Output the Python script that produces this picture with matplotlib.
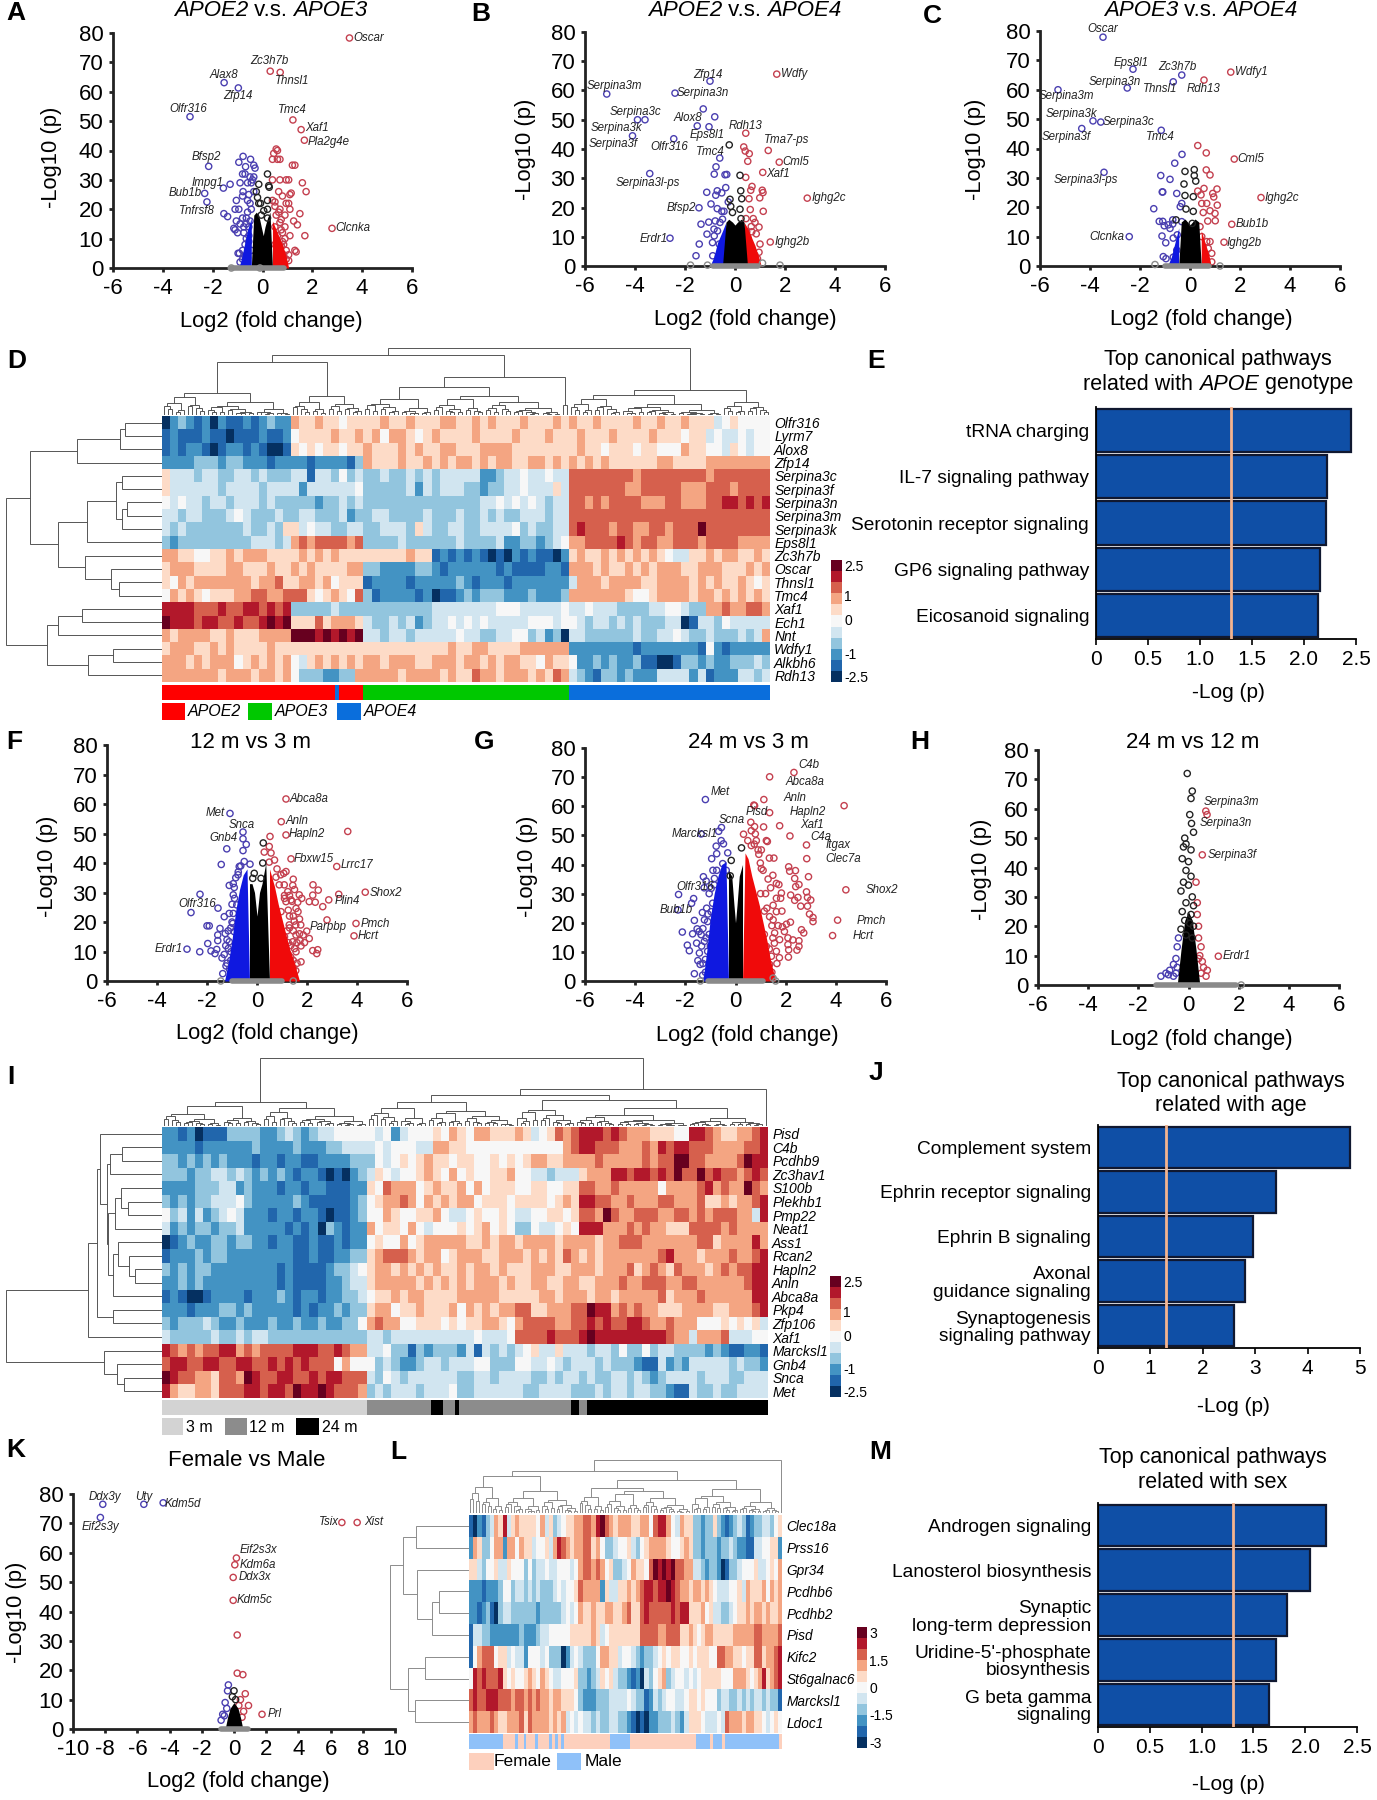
#!/usr/bin/env python3
"""Multi-panel transcriptomics figure: volcano plots, heatmaps and pathway bars."""
import numpy as np
import matplotlib
matplotlib.use('Agg')
import matplotlib.pyplot as plt
from matplotlib.colors import ListedColormap
from matplotlib.patches import Rectangle

W, H = 1377, 1800
plt.rcParams['font.family'] = ['Liberation Sans', 'DejaVu Sans']
plt.rcParams['axes.unicode_minus'] = False

LEVELS = ['#053061', '#2166ac', '#4393c3', '#92c5de', '#d1e5f0', '#f7f7f7',
          '#fddbc7', '#f4a582', '#d6604d', '#b2182b', '#67001f']
BLUE, RED, DARK, GRAY = '#4a3fb0', '#c4404f', '#222222', '#8a8a8a'

# ---- volcano data: (log2 fc, -log10 p)
A_BLUE = [(-1.54, 63.1), (-.97, 61.3), (-2.91, 51.5), (-2.16, 34.6), (-1.57, 27.2), (-2.32, 25.4), (-2.23, 22.5),
          (-.78, 38), (-.95, 36), (-.48, 37), (-.68, 34.5), (-.35, 35), (-.3, 34), (-.8, 32), (-.7, 32), (-.5, 31),
          (-.35, 31), (-.4, 30), (-.9, 29), (-.6, 29), (-.45, 29), (-1.3, 28.5), (-.78, 26), (-.8, 24.5), (-.55, 25),
          (-.35, 26), (-1.05, 23), (-.6, 23), (-.5, 22), (-1.1, 20), (-.95, 20), (-1.55, 18.5), (-1.4, 17.5),
          (-.8, 17), (-.65, 17), (-1.05, 16), (-.9, 15), (-.65, 15), (-.55, 14), (-1.15, 13.5), (-1.1, 13), (-1.0, 12),
          (-.75, 12), (-.55, 11), (-.65, 10), (-.55, 9), (-.98, 5), (-.93, 5), (-.7, 4), (-.6, 3.5), (-.45, 6),
          (-.8, 3), (-.9, 2), (-.5, 16), (-.75, 14), (-.7, 8), (-.8, 6), (-.6, 19), (-.45, 20)]
A_RED = [(3.49, 78.3), (.31, 67), (.71, 66.6), (1.22, 50.4), (1.55, 47.1), (1.68, 43.5), (2.79, 13.5),
         (.55, 40.5), (.6, 40), (.45, 39), (.4, 37), (.6, 37), (.7, 37), (1.2, 35), (1.3, 35), (.4, 30), (.7, 30),
         (.95, 30), (1.05, 30), (1.6, 29), (1.75, 26), (.65, 26), (.8, 24.5), (1.1, 25), (1.15, 25.5), (.4, 23),
         (.5, 22.5), (.95, 22), (1.05, 22), (.5, 21), (.7, 20), (1.1, 20), (.65, 19), (.9, 18), (1.5, 18.5),
         (.75, 16.5), (1.25, 16), (.7, 15.5), (1.4, 14.7), (.5, 14), (.75, 13), (.8, 12), (1.7, 11), (1.1, 11),
         (.9, 10), (.8, 9), (.5, 8), (.75, 7.5), (.85, 8), (1.3, 6), (1.35, 5.5), (.7, 6), (1.05, 4.5), (.85, 4.5),
         (.95, 3), (1.05, 2.5), (.55, 18), (.9, 14), (.6, 11), (.95, 6)]
A_BLACK = [(.2, 32), (-.15, 28.5), (.25, 28), (.27, 27.5), (-.25, 26), (-.2, 24), (.2, 23), (-.15, 22), (-.08, 22),
           (.2, 20), (.05, 19.5), (-.05, 18), (.2, 17)]
A_ENV_X = [-.95, -.85, -.75, -.6, -.45, -.35, -.25, -.15, -.05, .03, .1, .2, .3, .4, .5, .65, .8, .95, 1.05]
A_ENV_Y = [0, 3, 7, 13, 17, 18, 19, 18, 14, 11, 14, 17, 19, 16, 14, 11, 8, 4, 0]
A_LABELS = [('Oscar', 4.25, 78.2), ('Zc3h7b', .27, 70.6), ('Thnsl1', 1.18, 63.8), ('Alax8', -1.57, 65.6),
            ('Zfp14', -1.0, 58.7), ('Olfr316', -2.99, 54.1), ('Tmc4', 1.18, 53.7), ('Xaf1', 2.17, 47.6),
            ('Pla2g4e', 2.65, 43), ('Bfsp2', -2.24, 37.8), ('Impg1', -2.21, 28.9), ('Bub1b', -3.11, 25.4),
            ('Tnfrsf8', -2.64, 19.5), ('Clcnka', 3.63, 13.5)]

B_BLUE = [(-1, 63.2), (-5.13, 58.8), (-2.4, 59.1), (-3.6, 50), (-3.9, 50), (-1.27, 53.7), (-.81, 51), (-1.51, 47.9),
          (-1.04, 47.6), (-4.1, 44.5), (-2.45, 43.5), (-.61, 36.9), (-3.41, 31.6), (-1.44, 19.9), (-2.6, 9.5),
          (-.76, 33.9), (-.83, 31.4), (-.33, 31.3), (-.4, 31.2), (-.37, 26.8), (-1.13, 25.2), (-.71, 25.7), (-.53, 25),
          (-.77, 24.2), (-.96, 21.2), (-.27, 21.9), (-.71, 19.6), (-.53, 18.7), (-.44, 18.7), (-1.05, 15), (-1.36, 14.3),
          (-.79, 15.4), (-.6, 14.9), (-.84, 12.6), (-1.12, 10.9), (-.83, 10.3), (-1.43, 7.5), (-.63, 7.5), (-1.56, 3.5),
          (-.89, 3.5), (-.67, 3.2), (-.5, 16), (-.7, 12), (-.9, 8)]
B_RED = [(1.67, 65.6), (.43, 45.4), (1.33, 39.5), (1.77, 35.5), (1.11, 32), (2.89, 23.2), (1.41, 8.2), (.35, 40.7),
         (.41, 39.3), (.57, 38.4), (.51, 35.8), (.43, 30.3), (.68, 27.2), (.63, 25.9), (1.09, 25.9), (1.12, 25.1),
         (.56, 23), (.99, 23.3), (.61, 19.3), (1.13, 18.7), (.44, 16.2), (.73, 16.2), (.8, 14.9), (.96, 13.3),
         (.47, 11.7), (.67, 11.7), (1, 7.5), (.96, 4.7), (.8, 3.7), (.6, 6), (.53, 9.4), (.65, 13.5), (.85, 11), (.9, 2.5)]
B_BLACK = [(-.23, 41.4), (.2, 31), (.23, 25.7), (-.2, 22.8), (.27, 23), (-.17, 20.4), (.2, 19.4), (-.1, 18.3), (.24, 16.2)]
B_ENV_X = [-1, -.85, -.7, -.5, -.36, -.25, -.1, 0, .1, .25, .36, .5, .65, .8, .95, 1.05]
B_ENV_Y = [0, 3, 8, 12, 15, 16, 15, 14, 15, 16, 15, 13, 10, 7, 3, 0]
B_LABELS = [('Wdfy', 2.36, 65.6), ('Zfp14', -1.07, 65.4), ('Serpina3m', -4.84, 61.6), ('Serpina3n', -1.27, 59),
            ('Serpina3c', -3.97, 52.7), ('Alox8', -1.87, 50.5), ('Serpina3k', -4.73, 47.3), ('Serpina3f', -4.89, 41.7),
            ('Eps8l1', -1.1, 44.8), ('Olfr316', -2.63, 40.6), ('Rdh13', .41, 47.9), ('Tma7-ps', 2.07, 43),
            ('Tmc4', -1, 38.9), ('Cml5', 2.44, 35.4), ('Xaf1', 1.73, 31.4), ('Serpina3l-ps', -3.47, 28.5),
            ('Ighg2c', 3.76, 23.2), ('Bfsp2', -2.13, 20), ('Erdr1', -3.24, 9.4), ('Ighg2b', 2.27, 8.2)]

C_BLUE = [(-3.48, 77.9), (-2.28, 67), (-.33, 65), (-.67, 62.7), (-2.51, 60.6), (-5.28, 60), (-3.88, 49.4), (-3.57, 49),
          (-4.33, 46.8), (-1.15, 46.2), (-3.44, 31.9), (-2.43, 10), (-.32, 38), (-.61, 35), (-1.17, 30.8), (-.8, 29.5),
          (-1.09, 25.2), (-1.11, 25.2), (-.53, 24.7), (-.33, 21.3), (-.39, 20.2), (-1.45, 19.5), (-1.23, 15.2),
          (-1.09, 15.2), (-1.03, 13.7), (-.69, 15.7), (-.69, 14.3), (-.8, 12.8), (-.33, 15.1), (-1.12, 10.2),
          (-.67, 9.5), (-.97, 7.9), (-.51, 10.6), (-1.07, 3.2), (-.96, 2.5), (-.67, 3), (-.53, 5.4), (-.87, 14)]
C_RED = [(1.63, 66), (.56, 63.3), (1.77, 36.4), (2.84, 23.3), (1.67, 14.2), (1.36, 8.1), (.31, 41), (.65, 38.5),
         (.65, 32.7), (.8, 31), (.56, 26.4), (1.08, 26.2), (.91, 24.7), (.95, 23.5), (.31, 25.5), (.44, 24.2),
         (.67, 21.3), (1.09, 20.7), (.47, 21.3), (.8, 18.8), (1, 17.9), (.53, 18.2), (.71, 15.3), (1.01, 15.4),
         (.4, 13.4), (.8, 8.3), (.67, 8.3), (.87, 4.3), (.87, 1.4), (.73, 6), (.47, 10)]
C_BLACK = [(.17, 32.8), (-.2, 32.2), (.17, 30.8), (.23, 28.9), (-.24, 27.9), (-.2, 24), (.13, 23.6), (-.16, 19.4),
           (.13, 18.6), (-.56, 15.7), (.09, 14.5)]
C_ENV_X = [-.9, -.75, -.6, -.45, -.35, -.2, 0, .2, .35, .45, .6, .75, .85]
C_ENV_Y = [0, 3, 8, 13, 15, 16, 14, 16, 15, 12, 8, 4, 0]
C_LABELS = [('Oscar', -3.49, 80.7), ('Eps8l1', -2.36, 69.2), ('Zc3h7b', -.51, 67.9), ('Wdfy1', 2.44, 66.1),
            ('Thnsl1', -1.2, 60.2), ('Rdh13', .56, 60.3), ('Serpina3n', -3.01, 62.8), ('Serpina3m', -4.93, 57.8),
            ('Serpina3k', -4.73, 51.6), ('Serpina3c', -2.47, 48.9), ('Serpina3f', -4.96, 44), ('Tmc4', -1.17, 43.9),
            ('Cml5', 2.44, 36.3), ('Serpina3l-ps', -4.16, 29.2), ('Ighg2c', 3.69, 23.2), ('Bub1b', 2.47, 14.3),
            ('Ighg2b', 2.16, 7.9), ('Clcnka', -3.31, 9.8)]

F_BLUE = [(-1.08, 56.8), (-.56, 50.5), (-1.21, 44.8), (-1.56, 24.7), (-2.8, 10.8), (-2.28, 29.4), (-2.64, 23.2),
          (-1.43, 39.5), (-.56, 48.2), (-.43, 46.3), (-.56, 44.2), (-.51, 40.5), (-.71, 38.8), (-.28, 39.6), (-.76, 36),
          (-1.11, 32.4), (-.91, 31.7), (-.95, 29.2), (-1.11, 22.9), (-1.31, 21.8), (-.95, 22.9), (-2, 18.7),
          (-1.91, 18.7), (-1.48, 17.8), (-.97, 19.5), (-1.57, 15.6), (-1.27, 16.1), (-1.97, 12.7), (-1.57, 13.7),
          (-2.29, 9.9), (-1.84, 10.2), (-1.68, 9.3), (-1.61, 10.7), (-1.31, 9), (-1.4, 7.8), (-1.24, 5.1), (-1.37, 2.5),
          (-1.11, 13.3), (-1.04, 9.9), (-.91, 16.7), (-.81, 25.8), (-1.0, 20), (-1.05, 18), (-1.2, 14), (-1.15, 11),
          (-1.05, 7), (-1.2, 6), (-1.1, 4), (-.95, 33), (-.85, 35), (-.75, 37), (-.65, 39), (-1.25, 12), (-1.15, 17),
          (-1.0, 26), (-.9, 28)]
F_RED = [(1.16, 61.7), (.97, 54), (1.16, 49.5), (3.63, 50.7), (1.36, 41.4), (3.19, 38.8), (4.33, 30.1), (2.87, 27.5),
         (3.27, 29.4), (2.8, 20.7), (3.96, 19.5), (3.88, 15.3), (.52, 49), (.49, 45.6), (.29, 43.7), (.56, 43.4),
         (.49, 40.3), (1.16, 37.1), (1.07, 36.5), (.76, 35.2), (1.45, 34.5), (1.43, 32.4), (2.24, 32.6), (2.45, 30.8),
         (2.23, 29.1), (2.09, 26.9), (2.33, 26.7), (2.63, 25.2), (1.69, 29.2), (1.79, 28), (1.63, 26.7), (1.36, 27.5),
         (1.56, 24.6), (1.64, 23.5), (.89, 32.6), (1.09, 32.6), (1.23, 30.3), (1.16, 26.9), (1.49, 20.3), (1.29, 19),
         (1.99, 16.9), (1.85, 15.6), (2.09, 14.4), (1.56, 15.6), (1.72, 13.7), (1.76, 11.9), (2.23, 10.3), (2.43, 10.6),
         (2.39, 9.3), (1.56, 9.9), (1.76, 6.5), (1.36, 5.3), (1.23, 3.6), (1.03, 14.4), (1.16, 11), (.83, 17.8),
         (1.43, 13.3), (.96, 23.5), (1.3, 22), (1.2, 17), (1.35, 8), (1.05, 6), (1.45, 4.5), (1.1, 28), (1.3, 29), (1.5, 31),
         (1.1, 29), (1.4, 27), (1.25, 24), (1.45, 22), (1.3, 18), (1.55, 19), (1.7, 21), (1.45, 17), (1.6, 13), (1.35, 12),
         (1.5, 11), (1.7, 16), (1.9, 13), (1.25, 9), (1.45, 7), (1.6, 6), (1.3, 3), (1.15, 1.5), (1.4, 2.5), (1.55, 3.5),
         (1.75, 19), (1.1, 15), (1.25, 13), (.95, 36), (.8, 38), (.7, 41)]
F_BLACK = [(.25, 46.8), (.23, 40), (-.11, 36.5), (-.17, 34.8), (.16, 34.8)]
F_ENV_X = [-1.3, -1.15, -1, -.85, -.7, -.55, -.4, -.3, -.2, -.1, 0, .1, .2, .35, .5, .7, .85, 1, 1.15, 1.3, 1.5, 1.7]
F_ENV_Y = [0, 6, 14, 24, 31, 36, 38, 33, 33, 30, 22, 30, 33, 40, 38, 32, 26, 21, 16, 11, 6, 0]
F_LABELS = [('Abca8a', 2.09, 61.6), ('Anln', 1.6, 54.1), ('Hapln2', 2.01, 49.7), ('Met', -1.67, 56.9), ('Snca', -.6, 52.8),
            ('Gnb4', -1.33, 48.4), ('Fbxw15', 2.25, 41.3), ('Lrrc17', 4, 39.2), ('Shox2', 5.16, 30), ('Plin4', 3.63, 27),
            ('Olfr316', -2.39, 26.1), ('Parpbp', 2.85, 18.4), ('Pmch', 4.72, 19.2), ('Hcrt', 4.45, 15.1), ('Erdr1', -3.53, 10.7)]

G_BLUE = [(-1.2, 62.3), (-.56, 52.7), (-.67, 51.4), (-1.37, 50.5), (-2.27, 29.7), (-1.67, 28.3), (-1.75, 26.7),
          (-2.29, 24.4), (-1.32, 23.5), (-1.64, 20.8), (-1.24, 21), (-2.12, 16.8), (-1.53, 17.9), (-1.71, 16.2),
          (-1.92, 12.3), (-1.84, 10.4), (-1.37, 15.9), (-1.17, 14.8), (-1.44, 9.6), (-1.41, 5.7), (-1.64, 2.5),
          (-1.31, 2), (-1.11, 1.7), (-1.28, 35.8), (-1.17, 34.3), (-.97, 31.8), (-.77, 46.3), (-.57, 48.2), (-.48, 47.1),
          (-.75, 43.7), (-.31, 44), (-.51, 40.3), (-.75, 38), (-.37, 38), (-.84, 35.2), (-.91, 26.7), (-.97, 23.8),
          (-1.11, 20.4), (-1.24, 13.6), (-1.11, 10.2), (-1.2, 7.4), (-.97, 4.5), (-1.25, 32), (-1.05, 30), (-1.15, 25),
          (-1.3, 18), (-1.45, 17), (-1.55, 13), (-1.35, 12), (-1.5, 7), (-1.3, 6), (-1.2, 3), (-1.05, 16), (-1.1, 23),
          (-.9, 38), (-.95, 42), (-.85, 33), (-1, 12)]
G_RED = [(2.33, 71.6), (1.36, 70.1), (1.13, 62.3), (4.33, 60.2), (1.36, 57.8), (.73, 60.4), (.76, 60.2), (1.76, 53.3),
         (2.17, 49.8), (2.83, 46.7), (2.84, 42), (4.4, 31.3), (4.07, 20.9), (3.87, 15.6), (.61, 54.5), (.76, 53),
         (1.12, 52.9), (.63, 51.6), (.79, 50.5), (.32, 50.4), (.49, 48.2), (.83, 48.2), (1.23, 48.2), (1.27, 47.9),
         (.63, 46.5), (1.03, 45), (.93, 43.5), (1.35, 42.2), (1.53, 42.2), (.99, 40.5), (2.12, 39.2), (2.16, 37.7),
         (2.39, 37.9), (1.03, 38.6), (1.49, 36.3), (2.36, 35.2), (2.91, 35.8), (2.53, 33.1), (2.4, 32.4), (1.63, 33.5),
         (1.73, 33.1), (2.83, 30.6), (1.83, 30.2), (2.2, 29.5), (2.49, 28.7), (2.87, 28.7), (3, 27.8), (2.36, 27.7),
         (1.8, 28.4), (1.63, 28.4), (2.6, 25.7), (2.87, 25.7), (2.95, 23), (3.09, 21.8), (3.09, 20.4), (2.19, 20.2),
         (2.03, 19.5), (1.87, 18.6), (1.63, 23.8), (1.36, 22.1), (2.63, 17.6), (2.72, 16.5), (1.56, 16.5), (2.09, 14.8),
         (2.29, 14.1), (2.53, 13.8), (1.76, 14.2), (1.49, 14.8), (2.53, 11.9), (2.09, 12.5), (2.45, 10.6), (2.12, 10.7),
         (2.11, 8.2), (1.63, 10.2), (1.36, 5.7), (1.09, 10.2), (1.23, 11.9), (1.43, 8.5), (1.03, 4.5), (1.23, 2.3),
         (1.2, 30), (1.4, 32), (1.5, 26), (1.25, 25), (1.45, 19), (1.7, 19), (1.55, 13), (1.35, 11), (1.75, 8), (1.25, 7),
         (1.45, 3), (1.15, 16), (1.3, 35), (1.1, 38), (.9, 45), (.75, 47), (1, 30), (1.85, 24), (1.95, 17), (1.15, 24),
         (1.5, 21), (1.65, 6)]
G_BLACK = [(.24, 45.7), (-.17, 41.4), (-.21, 36.1)]
G_ENV_X = [-1.3, -1.15, -1, -.85, -.7, -.55, -.38, -.28, -.15, -.06, 0, .06, .15, .28, .38, .5, .65, .8, .95, 1.1, 1.25, 1.4, 1.6]
G_ENV_Y = [0, 10, 22, 30, 36, 40, 41, 38, 36, 26, 20, 26, 36, 40, 44, 42, 36, 31, 26, 20, 14, 7, 0]
G_LABELS = [('C4b', 2.93, 74.2), ('Abca8a', 2.79, 68.2), ('Anln', 2.36, 62.8), ('Hapln2', 2.88, 57.9), ('Met', -.59, 64.9),
            ('Pisd', .83, 57.9), ('Scna', -.17, 55.4), ('Xaf1', 3.04, 53.6), ('C4a', 3.39, 49.4), ('Itgax', 4.09, 46.8),
            ('Clec7a', 4.29, 41.9), ('Marcksl1', -1.64, 50.6), ('Olfr316', -1.61, 32.2), ('Bub1b', -2.36, 24.5),
            ('Shox2', 5.84, 31.3), ('Pmch', 5.43, 20.7), ('Hcrt', 5.09, 15.4)]

H_BLUE = [(-.45, 13), (-.5, 9), (-.6, 7), (-.75, 5), (-.9, 4), (-1.1, 3), (-.5, 4), (-.4, 16), (-.6, 3), (-.8, 3.5), (-.45, 6)]
H_RED = [(.69, 59.2), (.74, 58), (.55, 44.3), (1.19, 9.8), (.35, 24), (.4, 20), (.4, 16), (.5, 13), (.45, 10), (.55, 8),
         (.6, 6), (.75, 5), (.4, 9), (.5, 4), (.7, 3), (.35, 28), (.3, 35)]
H_BLACK = [(-.05, 72), (.15, 66), (.1, 63.5), (.05, 58), (.12, 55), (.2, 52), (-.15, 50), (-.1, 48), (-.2, 47), (.1, 46),
           (-.25, 43), (0, 42), (-.1, 39), (.1, 37), (-.2, 35), (0, 34), (-.3, 32), (.15, 30), (-.1, 28), (.2, 27),
           (-.25, 25), (.1, 24), (-.15, 22), (.05, 21), (.2, 20), (-.3, 19), (-.1, 17), (.15, 16)]
H_ENV_X = [-.45, -.3, -.15, 0, .15, .3, .45]
H_ENV_Y = [0, 12, 22, 25, 22, 12, 0]
H_LABELS = [('Serpina3m', 1.7, 62.4), ('Serpina3n', 1.47, 55.3), ('Serpina3f', 1.74, 44.3), ('Erdr1', 1.92, 9.8)]

K_BLUE = [(-8.15, 76.5), (-5.6, 76.5), (-4.4, 77), (-8.3, 72), (-.35, 15), (-.4, 13), (-.55, 9), (-.7, 5), (-.8, 3), (-.45, 7), (-.6, 4.5)]
K_RED = [(6.7, 70.3), (7.65, 70.3), (.15, 58.2), (.05, 55.9), (-.05, 51.6), (-.05, 43.8), (.2, 32), (.2, 19), (.55, 18.5), (.7, 12),
         (.4, 10), (.3, 8), (.6, 6), (.5, 4), (.9, 8), (1.74, 5)]
K_BLACK = [(0, 13), (-.1, 11), (.1, 10)]
K_ENV_X = [-.55, -.4, -.25, 0, .25, .4, .55]
K_ENV_Y = [0, 4, 7, 9, 7, 4, 0]
K_LABELS = [('Ddx3y', -8, 78.9), ('Uty', -5.6, 79), ('Kdm5d', -3.2, 76.6), ('Eif2s3y', -8.3, 68.8), ('Tsix', 5.9, 70.3),
            ('Xist', 8.7, 70.3), ('Eif2s3x', 1.5, 61), ('Kdm6a', 1.5, 55.9), ('Ddx3x', 1.3, 51.6), ('Kdm5c', 1.3, 43.8), ('Prl', 2.53, 5)]

# ---- heatmaps: one char per cell, 0..9 and A index the eleven colour levels
D_GENES = ['Olfr316', 'Lyrm7', 'Alox8', 'Zfp14', 'Serpina3c', 'Serpina3f', 'Serpina3n', 'Serpina3m', 'Serpina3k', 'Eps8l1',
           'Zc3h7b', 'Oscar', 'Thnsl1', 'Tmc4', 'Xaf1', 'Ech1', 'Nnt', 'Wdfy1', 'Alkbh6', 'Rdh13']
D_GROUPS = [32, 18, 17, 34, 50]
D_ROWS = [
    '0232120211212322 766766566 66766766 67766767666766676 7667666676676676664565555',
    '1211121101112112 566667667 67577656 76666766667666766 6766676666766656645445455',
    '1212210122121001 656566566 76667676 67766677776666666 6766566656655576655465455',
    '2222333233222122 221222213 76667667 67677676776677676 7676766666677666677777777',
    '6444344334434333 441443534 33433434 34444422344544544 8888888878888888878888888',
    '6444444344443444 424444445 33333424 34443323344544464 8888888778888877788878888',
    '5454434434443433 333233434 33333333 33333344545454344 8878788887778877788998989',
    '4434433345433343 344333423 34433334 33343343433444344 8888888888888888888888888',
    '4343333333433436 645443344 33444364 33443344445343344 8988878877887888A88888888',
    '3233333333344434 787888878 33334333 33343333422332345 7788889878877888788887777',
    '7766556676777666 676767666 66666766 12121210102121102 6766767676765446676776676',
    '6777666677666766 767666677 33222233 21222222121111221 7776766767677766777666767',
    '6576777777767786 677675666 12222122 22232122212222222 4777677776677776767667656',
    '5767656667788778 886567658 31222212 01123233322232223 7777777655677776776767676',
    '9999888988998989 333334333 33333333 44444444555444445 4454443333445543377877887',
    'A999899889889A9A 666867776 43343423 44545454444455545 5434434343334401443544444',
    '7677776676667777 AAA9A9A9A 44344344 44454433445534230 4433333343344543343334347',
    '6777667676666766 666666666 66666666 66766776666777777 2222222212222222152122222',
    '7776767775676767 546767676 77677766 77767767677665766 5223232231100133232233343',
    '7777777677767767 533322337 77776777 76766877677767687 4321332322244442412224434',
]
D_ANNOT_CATS = [0, 2, 0, 1, 2]
D_ANNOT_COUNTS = [43, 1, 6, 51, 50]
D_ANNOT_COLORS = ['#ff0000', '#00c800', '#0a6edc']
D_ANNOT_NAMES = ['APOE2', 'APOE3', 'APOE4']

I_GENES = ['Pisd', 'C4b', 'Pcdhb9', 'Zc3hav1', 'S100b', 'Plekhb1', 'Pmp22', 'Neat1', 'Ass1', 'Rcan2', 'Hapln2', 'Anln', 'Abca8a',
           'Pkp4', 'Zfp106', 'Xaf1', 'Marcksl1', 'Gnb4', 'Snca', 'Met']
I_GROUPS = [51, 37, 16, 47]
I_ROWS = [
    '2212011133332234323445555 545245556576577666 76456878 999898777666559987667789',
    '2222122222232222322233444 454555447766555555 55555578 998887778798998887777889',
    '3323232322212212211222233 354565676656655656 56776677 778777778788AA8877778A99',
    '3332334434323232122101023 465455676575655667 55443444 677799899898A88A89887898',
    '2222333442322212212211122 658777567667575666 55665566 887787777757777897877A87',
    '3232334445322222321111123 567787576767756665 66665676 998877877788777866767789',
    '5342423454222122122101123 557655667544565565 44556656 887A87788877887878887749',
    '4232332334222221212032122 756657545556567565 33544565 999777878776668888787777',
    '0123223323322122112112122 565575677777667677 67777677 776778887777777886777797',
    '1222323322222222112112233 678887677567776677 76767687 676777777789777677787789',
    '3232332222222212111123345 677676767667677676 66777667 776777867876877767878899',
    '2232322222222212111122344 677777676767677767 66776677 667778778887788777777899',
    '1210012222122232122122334 566767766667777766 66677677 767767777786777877777799',
    '2221222332322222121223233 677566766675767677 88667778 8A9978787766677776677789',
    '3233343223222322322322335 787755666565667765 78888778 898988998778777555656564',
    '4333334334344333333333333 443444444444454445 88889888 9A9999999998774777844455',
    '9878788997878888999889877 445331323332414343 45644644 434435335344333323211221',
    '8998899889988989898885755 534322344344455333 55445434 443433321142324444434332',
    'A988776887A98899889899888 435434444443344344 44334344 343344343234444344433444',
    '9766776888998998A99A98887 343444344453344444 43344443 334344344332114334334444',
]
I_ANNOT_CATS = [0, 1, 2, 1, 2, 1, 2, 1, 2]
I_ANNOT_COUNTS = [51, 16, 3, 3, 1, 28, 2, 2, 45]
I_ANNOT_COLORS = ['#d3d3d3', '#8c8c8c', '#000000']
I_ANNOT_NAMES = ['3 m', '12 m', '24 m']

L_GENES = ['Clec18a', 'Prss16', 'Gpr34', 'Pcdhb6', 'Pcdhb2', 'Pisd', 'Kifc2', 'St6galnac6', 'Marcksl1', 'Ldoc1']
L_GROUPS = [38, 40, 31]
L_ROWS = [
    '10213476946766665746345667 78879A87677766775899754766 3323363212343123344356',
    '27633577277576645564798767 78867533455643567777655676 3323332334322114455662',
    '66435564465553534454455545 78878756334576658A9A9A8877 4432332013345556445657',
    '22212223553443434333454556 87777264466767899899A98776 7767654445564766675767',
    '22123103443333332333334545 76676677667866898888898996 6675644334566767767667',
    '14433222222232223445555566 66676456666666888877888667 6567766666777778877778',
    '15788856645442555453330245 43335776645543233456566556 5666558877665668867789',
    '59898889656556765765445556 33234656433212043567345545 4566666555777656796789',
    '89889998887887878776776665 32223334444543312434554456 6565553443343434434331',
    '78777876677786877776767454 54434334433210102233343246 6654445487776776654565',
]
L_ANNOT_CATS = [1, 0, 1, 0, 1, 0, 1, 0, 1, 0, 1, 0, 1, 0, 1, 0, 1, 0, 1, 0, 1, 0]
L_ANNOT_COUNTS = [12, 4, 1, 2, 1, 3, 1, 4, 1, 1, 1, 1, 1, 16, 7, 23, 5, 1, 3, 1, 19, 1]
L_ANNOT_COLORS = ['#fdd0bd', '#8fc1f9']
L_ANNOT_NAMES = ['Female', 'Male']

# trees: (height, left, right); int = row leaf; [n, h] = cluster of n columns topped at h
D_ROW_TREE = (285, (240, (155, (77, (67, 0, 1), 2), 3),
                      (190, (137, (83, (73, 4, 5), (73, (63, 6, 7), 8)), 9), (140, 10, (93, 11, (78, 12, 13))))),
              (210, (190, (145, 14, 15), 16), (135, (90, 17, 18), 19)))
D_COL_TREE = (200, (180, (157, [32, 67], [18, 57]), (112, (83, [17, 47], [32, 57]), [2, 30])), (75, [38, 60], [12, 40]))
I_ROW_TREE = (285, (135, (118, (112, 0, (100, (95, (72, 1, 2), 3),
                                         (98, (85, (75, 4, (62, 5, 6)), 7), (90, (80, 8, (60, 9, (50, 10, 11))), 12)))),
                          (90, 13, 14)), 15),
              (105, 16, (82, 17, (70, 18, 19))))
I_COL_TREE = (68, (24, [25, 20], [26, 18]), (37, (31, (24, [15, 18], [22, 15]), (26, [15, 16], [47, 18])), [1, 20]))
L_ROW_TREE = (238, (200, (160, 0, 1), (158, 2, (111, (90, 3, 4), 5))), (183, (133, 6, 7), (163, 8, 9)))
L_COL_TREE = (53, (42, (37, [12, 26], [26, 22]), (33, (25, [9, 16], [30, 22]), [31, 24])), [1, 22])

E_PATHWAYS = ['tRNA charging', 'IL-7 signaling pathway', 'Serotonin receptor signaling', 'GP6 signaling pathway', 'Eicosanoid signaling']
E_VALUES = [2.45, 2.22, 2.21, 2.15, 2.13]
J_PATHWAYS = ['Complement system', 'Ephrin receptor signaling', 'Ephrin B signaling', 'Axonal\nguidance signaling',
              'Synaptogenesis\nsignaling pathway']
J_VALUES = [4.8, 3.4, 2.95, 2.8, 2.6]
M_PATHWAYS = ['Androgen signaling', 'Lanosterol biosynthesis', 'Synaptic\nlong-term depression',
              "Uridine-5'-phosphate\nbiosynthesis", 'G beta gamma\nsignaling']
M_VALUES = [2.2, 2.05, 1.82, 1.72, 1.65]
THRESHOLD = 1.3

SPLITS = [.55, .42, .6, .35, .5]
DECAY = [.72, .85, .62, .78, .68]

fig = plt.figure(figsize=(W / 100, H / 100), dpi=100)


def axes_px(x0, y0, x1, y1):
    ax = fig.add_axes([x0 / W, 1 - y1 / H, (x1 - x0) / W, (y1 - y0) / H])
    ax.patch.set_alpha(0)
    return ax


def text_px(x, y, s, **kw):
    kw.setdefault('ha', 'center')
    kw.setdefault('va', 'center')
    return fig.text(x / W, 1 - y / H, s, **kw)


def rect_px(x0, y0, x1, y1, color):
    fig.add_artist(Rectangle((x0 / W, 1 - y1 / H), (x1 - x0) / W, (y1 - y0) / H,
                             transform=fig.transFigure, facecolor=color, edgecolor='none'))


def mixed_text(xc, y, parts, size=16):
    """Centered line with italic and upright stretches."""
    rend = fig.canvas.get_renderer()
    items = [text_px(0, y, s, ha='left', fontsize=size, style='italic' if it else 'normal') for s, it in parts]
    widths = [t.get_window_extent(rend).width for t in items]
    x = xc - sum(widths) / 2
    for t, w in zip(items, widths):
        t.set_x(x / W)
        x += w


def volcano(box, blue, red, black, env_x, env_y, labels, gray_span, gray_pts=(), xlim=(-6, 6), thr=.36):
    ax = axes_px(*box)
    for pts, col in ((blue, BLUE), (red, RED)):
        ax.scatter(*zip(*pts), s=20, facecolors='none', edgecolors=col, linewidths=1, clip_on=False, zorder=2)
    ex, ey = np.array(env_x), np.array(env_y)
    ax.fill_between(ex, 0, ey, where=ex <= -thr, interpolate=True, color='#0f18e0', lw=0, zorder=3)
    ax.fill_between(ex, 0, ey, where=ex >= thr, interpolate=True, color='#f00a0a', lw=0, zorder=3)
    ax.fill_between(ex, 0, ey, where=np.abs(ex) <= thr, interpolate=True, color='#000000', lw=0, zorder=4)
    ax.scatter(*zip(*black), s=20, facecolors='none', edgecolors=DARK, linewidths=1, clip_on=False, zorder=4)
    ax.plot(gray_span, [0, 0], color=GRAY, lw=4, solid_capstyle='round', clip_on=False, zorder=5)
    if gray_pts:
        ax.scatter(*zip(*gray_pts), s=20, facecolors='none', edgecolors=GRAY, linewidths=1, clip_on=False, zorder=5)
    ax.set_xlim(*xlim)
    ax.set_ylim(0, 80)
    ax.set_xticks(np.arange(xlim[0], xlim[1] + 1, 2))
    ax.set_yticks(np.arange(0, 81, 10))
    ax.tick_params(labelsize=16, width=2, length=3, pad=4, color=DARK)
    for s in ('top', 'right'):
        ax.spines[s].set_visible(False)
    for s in ('left', 'bottom'):
        ax.spines[s].set_linewidth(2)
        ax.spines[s].set_color(DARK)
    for name, x, y in labels:
        ax.text(x, y, name, style='italic', fontsize=8.3, color='#222222', ha='center', va='center', zorder=6)
    return ax


def cells(row):
    return [int(c, 11) for c in row]


def expand(node, depth=0):
    """Turn an [n, h] cluster into nested nodes; None marks a column leaf."""
    if isinstance(node, list):
        n, h = node
        if n == 1:
            return None
        left = min(n - 1, max(1, round(n * SPLITS[depth % 5])))
        low = h * DECAY[depth % 5]
        return (h, expand([left, low], depth + 1), expand([n - left, low * DECAY[(depth + 2) % 5]], depth + 2))
    if isinstance(node, tuple):
        return (node[0], expand(node[1], depth + 1), expand(node[2], depth + 2))
    return node


def draw_tree(ax, node, seq, horizontal, color='#555555'):
    if node is None:
        seq[0] += 1
        return seq[0] - .5, 0
    if isinstance(node, int):
        return node + .5, 0
    h, a, b = node
    pa, ha = draw_tree(ax, a, seq, horizontal, color)
    pb, hb = draw_tree(ax, b, seq, horizontal, color)
    if horizontal:
        ax.plot([ha, h, h, hb], [pa, pa, pb, pb], color=color, lw=.7, solid_joinstyle='miter')
    else:
        ax.plot([pa, pa, pb, pb], [ha, h, h, hb], color=color, lw=.7, solid_joinstyle='miter')
    return (pa + pb) / 2, h


def heatmap(box, rows, groups, genes, cat_cats, cat_counts, cat_colors, annot_box,
            row_box, row_tree, col_box, col_tree, col_color='#555555', gene_size=10):
    cmap = ListedColormap(LEVELS)
    ax = axes_px(*box)
    edges = np.concatenate([[0], np.cumsum(groups)])
    for i, row in enumerate(rows):
        for j, word in enumerate(row.split()):
            xs = np.linspace(edges[j], edges[j + 1], len(word) + 1)
            ax.pcolormesh(xs, [i, i + 1], [cells(word)], cmap=cmap, vmin=-.5, vmax=10.5, rasterized=True)
    ax.set_xlim(0, edges[-1])
    ax.set_ylim(len(rows), 0)
    ax.set_xticks([])
    ax.yaxis.tick_right()
    ax.set_yticks(np.arange(len(rows)) + .5)
    ax.set_yticklabels(genes, style='italic', fontsize=gene_size)
    ax.tick_params(length=0, pad=3)
    for s in ax.spines.values():
        s.set_visible(False)

    an = axes_px(*annot_box)
    an.barh([0] * len(cat_counts), cat_counts, left=np.concatenate([[0], np.cumsum(cat_counts)[:-1]]), height=1,
            color=[cat_colors[c] for c in cat_cats], linewidth=0)
    an.set_xlim(0, sum(cat_counts))
    an.set_ylim(-.5, .5)
    an.axis('off')

    rt = axes_px(*row_box)
    draw_tree(rt, row_tree, [0], True, col_color)
    rt.set_xlim(row_tree[0], 0)
    rt.set_ylim(len(rows), 0)
    rt.axis('off')

    ct = axes_px(*col_box)
    draw_tree(ct, expand(col_tree), [0], False, col_color)
    ct.set_xlim(0, edges[-1])
    ct.set_ylim(0, col_tree[0])
    ct.axis('off')


def colorbar(box, names, positions, size=10):
    ax = axes_px(*box)
    ax.pcolormesh([0, 1], np.arange(12), np.arange(11)[:, None], cmap=ListedColormap(LEVELS), vmin=-.5, vmax=10.5)
    ax.set_xticks([])
    ax.yaxis.tick_right()
    ax.set_yticks(np.array(positions) + .5)
    ax.set_yticklabels(names, fontsize=size)
    ax.tick_params(length=0, pad=1.5)
    for s in ax.spines.values():
        s.set_visible(False)


def pathway_bars(box, names, values, xmax, ticks, ticklabels):
    ax = axes_px(*box)
    y = np.arange(len(values))
    ax.barh(y, values, height=.93, color='#0f4fa6', edgecolor='#101830', linewidth=1.6)
    ax.axvline(THRESHOLD, color='#f3b48f', lw=2, zorder=5)
    ax.set_ylim(len(values) - .5, -.5)
    ax.set_xlim(0, xmax)
    ax.set_yticks(y)
    ax.set_yticklabels(names, fontsize=13.8, linespacing=1.05)
    ax.set_xticks(ticks)
    ax.set_xticklabels(ticklabels)
    ax.tick_params(axis='x', labelsize=15, width=1.2, length=4, pad=4)
    ax.tick_params(axis='y', length=0, pad=5)
    for s in ('top', 'right'):
        ax.spines[s].set_visible(False)
    for s in ('left', 'bottom'):
        ax.spines[s].set_linewidth(1.3)


# ---- volcano panels
volcano((113, 33, 412, 268), A_BLUE, A_RED, A_BLACK, A_ENV_X, A_ENV_Y, A_LABELS, [-1.25, .85], [(-1.25, 0), (-.1, 0)])
volcano((585, 32, 885, 266), B_BLUE, B_RED, B_BLACK, B_ENV_X, B_ENV_Y, B_LABELS, [-.9, .9],
        [(-1.78, .3), (-1.1, .3), (1.1, 1), (1.8, .3)])
volcano((1040, 31, 1340, 266), C_BLUE, C_RED, C_BLACK, C_ENV_X, C_ENV_Y, C_LABELS, [-1, .75], [(-1.4, .5), (1.2, 0)], thr=.38)
volcano((107, 745, 407, 981), F_BLUE, F_RED, F_BLACK, F_ENV_X, F_ENV_Y, F_LABELS, [-1, 1], [(-1.45, 0), (1.45, 0)])
volcano((585, 748, 886, 981), G_BLUE, G_RED, G_BLACK, G_ENV_X, G_ENV_Y, G_LABELS, [-1.1, 1.1],
        [(1.5, 1), (1.6, 0), (-1.4, 0)])
volcano((1038, 750, 1339, 985), H_BLUE, H_RED, H_BLACK, H_ENV_X, H_ENV_Y, H_LABELS, [-1.3, 1.9], [(2.1, 0)], thr=.45)
volcano((73, 1494, 395, 1729), K_BLUE, K_RED, K_BLACK, K_ENV_X, K_ENV_Y, K_LABELS, [-.8, .9], xlim=(-10, 10), thr=.55)

for x, y in [(271, 321), (745, 319), (1201, 319), (267, 1033), (747, 1036), (1201, 1039), (238, 1782)]:
    text_px(x, y, 'Log2 (fold change)', fontsize=15.8)
for x, y in [(52, 157), (526, 149), (975, 149), (48, 866), (528, 866), (982, 869), (17, 1612)]:
    text_px(x, y, '-Log10 (p)', fontsize=15.8, rotation=90)

mixed_text(271, 10, [('APOE2', 1), (' v.s. ', 0), ('APOE3', 1)])
mixed_text(745, 10, [('APOE2', 1), (' v.s. ', 0), ('APOE4', 1)])
mixed_text(1201, 10, [('APOE3', 1), (' v.s. ', 0), ('APOE4', 1)])
for x, y, s in [(251, 742, '12 m vs 3 m'), (748, 742, '24 m vs 3 m'), (1193, 742, '24 m vs 12 m'), (247, 1460, 'Female vs Male')]:
    text_px(x, y, s, fontsize=16)

# ---- heatmaps
heatmap((162, 416, 770, 682), D_ROWS, D_GROUPS, D_GENES, D_ANNOT_CATS, D_ANNOT_COUNTS, D_ANNOT_COLORS, (162, 685, 770, 700),
        (5.5, 416, 162, 682), D_ROW_TREE, (162, 348, 770, 415), D_COL_TREE)
colorbar((831, 560, 842, 682), ['-2.5', '-1', '0', '1', '2.5'], [0, 2.1, 5.1, 7.3, 10])
heatmap((162, 1127, 768, 1398), I_ROWS, I_GROUPS, I_GENES, I_ANNOT_CATS, I_ANNOT_COUNTS, I_ANNOT_COLORS, (162, 1400, 768, 1415),
        (5.5, 1127, 162, 1398), I_ROW_TREE, (162, 1058, 768, 1126), I_COL_TREE)
colorbar((830, 1276, 841, 1397), ['-2.5', '-1', '0', '1', '2.5'], [0, 2.1, 5.1, 7.3, 10])
heatmap((469, 1515, 782, 1733), L_ROWS, L_GROUPS, L_GENES, L_ANNOT_CATS, L_ANNOT_COUNTS, L_ANNOT_COLORS, (469, 1734, 782, 1749),
        (390, 1515, 469, 1733), L_ROW_TREE, (469, 1460, 782, 1513), L_COL_TREE, col_color='#8c8c8c', gene_size=9.8)
colorbar((857, 1627, 867, 1748), ['-3', '-1.5', '0', '1.5', '3'], [0, 2.5, 5, 7.5, 10])

# ---- heatmap legends
for (x0, x1, tx), col, name in zip([(162, 185, 214), (248, 272, 301), (337, 361, 390)], D_ANNOT_COLORS, D_ANNOT_NAMES):
    rect_px(x0, 703, x1, 720, col)
    text_px(tx, 712, name, fontsize=11.5, style='italic')
for (x0, x1, tx), col, name in zip([(162, 183, 199), (225, 247, 267), (296, 319, 340)], I_ANNOT_COLORS, I_ANNOT_NAMES):
    rect_px(x0, 1418, x1, 1435, col)
    text_px(tx, 1427, name, fontsize=11.5)
for (x0, x1, tx), col, name in zip([(469, 494, 523), (557, 581, 603)], L_ANNOT_COLORS, L_ANNOT_NAMES):
    rect_px(x0, 1753, x1, 1770, col)
    text_px(tx, 1762, name, fontsize=12.5)

# ---- pathway bars
TICKS_25 = [0, .5, 1, 1.5, 2, 2.5]
TICKS_25_LABELS = ['0', '0.5', '1.0', '1.5', '2.0', '2.5']
pathway_bars((1096, 407, 1356, 639), E_PATHWAYS, E_VALUES, 2.5, TICKS_25, TICKS_25_LABELS)
pathway_bars((1098, 1125, 1360, 1348), J_PATHWAYS, J_VALUES, 5, range(6), [str(i) for i in range(6)])
pathway_bars((1098, 1503, 1357, 1727), M_PATHWAYS, M_VALUES, 2.5, TICKS_25, TICKS_25_LABELS)
for x, y in [(1228, 693), (1233, 1406), (1228, 1785)]:
    text_px(x, y, '-Log (p)', fontsize=15)

text_px(1218, 359, 'Top canonical pathways', fontsize=15.5)
mixed_text(1218, 384, [('related with ', 0), ('APOE', 1), (' genotype', 0)], size=15.5)
text_px(1231, 1081, 'Top canonical pathways', fontsize=15.5)
text_px(1231, 1105, 'related with age', fontsize=15.5)
text_px(1213, 1458, 'Top canonical pathways', fontsize=15.5)
text_px(1213, 1483, 'related with sex', fontsize=15.5)

for s, x, y in [('A', 16, 13), ('B', 481, 14), ('C', 932, 16), ('D', 17, 361), ('E', 876, 361), ('F', 14, 742), ('G', 484, 742),
                ('H', 920, 742), ('I', 11, 1077), ('J', 876, 1073), ('K', 16, 1450), ('L', 398, 1452), ('M', 880, 1452)]:
    text_px(x, y, s, fontsize=19, fontweight='bold')

fig.savefig('out.png', dpi=100)
